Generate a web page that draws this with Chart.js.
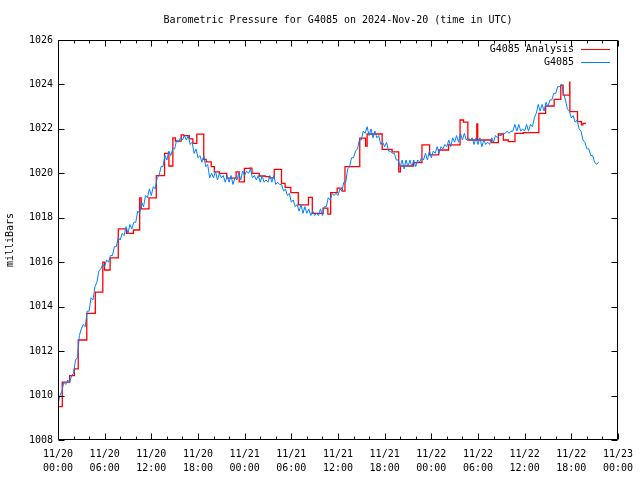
<!DOCTYPE html>
<html>
<head>
<meta charset="utf-8">
<script src="https://cdn.jsdelivr.net/npm/chart.js@4"></script>
<style>
  body { margin: 0; background: #fff; }
  #wrap { width: 640px; height: 480px; }
</style>
</head>
<body>
<div id="wrap"><canvas id="chart" width="640" height="480"></canvas></div>
<script>
// hours since 2024-11-20 00:00 UTC
const xTickLabels = ['11/20', '11/20', '11/20', '11/20', '11/21', '11/21', '11/21', '11/21', '11/22', '11/22', '11/22', '11/22', '11/23'];
const xTickTimes = ['00:00', '06:00', '12:00', '18:00', '00:00', '06:00', '12:00', '18:00', '00:00', '06:00', '12:00', '18:00', '00:00'];

// analysis (hourly-ish steps)
const redHours = [0, 0.55, 1.5, 2.1, 2.6, 3.7, 4.8, 5.76, 5.98, 6.7, 7.75, 8.8, 9.7,
    10.5, 10.7, 11.7, 12.64, 13.7, 14.26, 14.77, 15.1, 15.84, 16.18, 16.9, 17.34, 17.85,
    18.74, 19.05, 19.7, 20.1, 20.75, 21.7, 22.9, 23.3, 23.96, 24.6, 24.94, 25.88, 26.65,
    27.16, 27.8, 28.74, 29.2, 29.94, 30.9, 32.2, 32.7, 34.08, 34.7, 35.06, 35.9, 36.55,
    36.9, 38.8, 39.55, 39.75, 41.68, 42.96, 43.81, 44.03, 45.73, 46.8, 47.78, 48.94,
    50.22, 51.7, 52.14, 52.7, 53.85, 53.97, 55.77, 56.62, 57.26, 57.9, 58.76, 59.83,
    61.83, 62.7, 63.8, 64.65, 64.95, 65.8, 65.82, 66.8, 67.3, 67.5, 67.9];
const redValues = [1009.5, 1010.6, 1010.9, 1011.2, 1012.5, 1013.7, 1014.65, 1016.0, 1015.65, 1016.2, 1017.5, 1017.3, 1017.45,
    1018.9, 1018.4, 1018.9, 1019.9, 1020.9, 1020.33, 1021.6, 1021.45, 1021.73, 1021.7, 1021.55, 1021.35, 1021.76,
    1020.63, 1020.52, 1020.3, 1020.07, 1020.0, 1019.78, 1020.07, 1019.62, 1020.22, 1020.23, 1020.0, 1019.88, 1019.85,
    1019.8, 1020.18, 1019.55, 1019.37, 1019.13, 1018.58, 1018.92, 1018.2, 1018.43, 1018.16, 1019.13, 1019.33, 1019.2,
    1020.3, 1021.58, 1021.23, 1021.77, 1021.08, 1020.97, 1020.07, 1020.33, 1020.48, 1021.28, 1020.83, 1021.05,
    1021.28, 1022.4, 1022.3, 1021.5, 1022.22, 1021.5, 1021.38, 1021.77, 1021.5, 1021.43, 1021.8, 1021.83,
    1022.7, 1023.03, 1023.33, 1023.97, 1023.52, 1024.1, 1022.78, 1022.33, 1022.18, 1022.25, 1022.25];

// station readings, one every 15 minutes from 00:00
const blueValues = [
    1009.6, 1010.0, 1010.2, 1010.6, 1010.5, 1010.7, 1010.6, 1010.9,
    1011.0, 1011.6, 1011.7, 1012.7, 1013.0, 1013.2, 1013.1, 1013.8,
    1013.8, 1014.4, 1014.3, 1014.9, 1015.1, 1015.6, 1015.7, 1015.9,
    1015.8, 1016.1, 1016.0, 1016.3, 1016.3, 1016.7, 1016.7, 1017.1,
    1017.0, 1017.3, 1017.2, 1017.6, 1017.3, 1017.7, 1017.5, 1017.8,
    1017.8, 1018.3, 1018.2, 1018.7, 1018.5, 1019.0, 1018.9, 1019.3,
    1019.0, 1019.4, 1019.3, 1019.8, 1019.9, 1020.3, 1020.3, 1020.8,
    1020.6, 1021.0, 1020.8, 1021.1, 1021.1, 1021.5, 1021.4, 1021.6,
    1021.5, 1021.7, 1021.5, 1021.7, 1021.3, 1021.4, 1020.9, 1021.1,
    1020.7, 1020.8, 1020.5, 1020.8, 1020.3, 1020.4, 1019.8, 1020.0,
    1019.8, 1020.1, 1019.7, 1020.0, 1019.8, 1019.9, 1019.6, 1019.9,
    1019.6, 1019.9, 1019.5, 1019.8, 1019.7, 1020.0, 1019.7, 1020.1,
    1019.9, 1020.1, 1020.0, 1020.2, 1019.8, 1019.9, 1019.7, 1019.9,
    1019.6, 1019.9, 1019.6, 1019.7, 1019.6, 1019.9, 1019.6, 1019.9,
    1019.5, 1019.6, 1019.5, 1019.5, 1019.2, 1019.3, 1019.0, 1019.1,
    1018.7, 1018.8, 1018.5, 1018.6, 1018.3, 1018.6, 1018.2, 1018.5,
    1018.2, 1018.4, 1018.1, 1018.3, 1018.1, 1018.2, 1018.1, 1018.4,
    1018.1, 1018.5, 1018.5, 1018.9, 1018.8, 1019.1, 1019.0, 1019.1,
    1019.0, 1019.3, 1019.2, 1019.6, 1019.6, 1020.2, 1020.3, 1020.7,
    1020.7, 1021.0, 1021.1, 1021.5, 1021.5, 1021.9, 1021.8, 1022.1,
    1021.7, 1022.0, 1021.6, 1021.9, 1021.6, 1021.7, 1021.3, 1021.4,
    1021.2, 1021.4, 1021.0, 1021.0, 1020.9, 1020.9, 1020.6, 1020.6,
    1020.3, 1020.6, 1020.2, 1020.6, 1020.3, 1020.6, 1020.3, 1020.6,
    1020.3, 1020.6, 1020.5, 1020.7, 1020.6, 1020.9, 1020.6, 1021.0,
    1020.7, 1021.0, 1020.9, 1021.2, 1020.9, 1021.2, 1021.1, 1021.3,
    1021.2, 1021.5, 1021.2, 1021.6, 1021.4, 1021.7, 1021.4, 1021.8,
    1021.5, 1021.8, 1021.5, 1021.6, 1021.5, 1021.6, 1021.3, 1021.6,
    1021.3, 1021.6, 1021.2, 1021.5, 1021.3, 1021.4, 1021.3, 1021.6,
    1021.4, 1021.7, 1021.6, 1021.7, 1021.7, 1021.8, 1021.8, 1021.9,
    1021.8, 1021.9, 1021.9, 1022.2, 1021.9, 1022.2, 1021.9, 1022.0,
    1021.9, 1022.2, 1021.9, 1022.2, 1022.1, 1022.5, 1022.7, 1023.1,
    1022.8, 1023.1, 1022.8, 1023.2, 1023.0, 1023.3, 1023.3, 1023.6,
    1023.6, 1023.9, 1023.9, 1024.0, 1023.6, 1023.3, 1022.9, 1022.8,
    1022.5, 1022.6, 1022.3, 1022.4, 1022.0, 1021.9, 1021.5, 1021.4,
    1021.1, 1021.1, 1020.8, 1020.8, 1020.5, 1020.4, 1020.5
];

const FONT = { family: "'DejaVu Sans Mono', 'Liberation Mono', monospace", size: 10, weight: 'normal' };

const redPoints = redHours.map((h, i) => ({ x: h, y: redValues[i] }));
const bluePoints = blueValues.map((v, i) => ({ x: i / 4, y: v }));

// gnuplot style frame with inward ticks + legend inside plot
const framePlugin = {
    id: 'frame',
    afterDraw(chart) {
        const ctx = chart.ctx;
        const a = chart.chartArea;
        const xs = chart.scales.x;
        const ys = chart.scales.y;
        const L = Math.floor(a.left) + 0.5, R = Math.floor(a.right) + 0.5;
        const T = Math.floor(a.top) + 0.5, B = Math.floor(a.bottom) - 0.5;
        ctx.save();
        ctx.strokeStyle = '#000';
        ctx.lineWidth = 1;
        ctx.beginPath();
        ctx.rect(L, T, R - L, B - T);
        for (let h = 0; h <= 72; h += 2) {
            const px = Math.round(xs.getPixelForValue(h)) + 0.5;
            const len = h % 6 === 0 ? 6 : 3;
            ctx.moveTo(px, B); ctx.lineTo(px, B - len);
            ctx.moveTo(px, T); ctx.lineTo(px, T + len);
        }
        for (let v = 1008; v <= 1026; v += 2) {
            const py = Math.round(ys.getPixelForValue(v)) + 0.5;
            ctx.moveTo(L, py); ctx.lineTo(L + 6, py);
            ctx.moveTo(R, py); ctx.lineTo(R - 6, py);
        }
        ctx.stroke();

        // legend
        ctx.font = FONT.size + 'px ' + FONT.family;
        ctx.textAlign = 'right';
        ctx.textBaseline = 'middle';
        ctx.fillStyle = '#000';
        chart.data.datasets.forEach((ds, i) => {
            const y = 49.5 + i * 13;
            ctx.fillText(ds.label, 574, y);
            ctx.strokeStyle = ds.borderColor;
            ctx.beginPath();
            ctx.moveTo(581, y);
            ctx.lineTo(610, y);
            ctx.stroke();
        });
        ctx.restore();
    }
};

new Chart(document.getElementById('chart').getContext('2d'), {
    type: 'line',
    data: {
        datasets: [
            {
                label: 'G4085 Analysis',
                data: redPoints,
                borderColor: '#ff0000',
                borderWidth: 1.3,
                stepped: 'before',
                pointRadius: 0,
                fill: false,
                order: 2
            },
            {
                label: 'G4085',
                data: bluePoints,
                borderColor: '#0080ff',
                borderWidth: 1,
                pointRadius: 0,
                tension: 0,
                fill: false,
                order: 1
            }
        ]
    },
    options: {
        responsive: false,
        animation: false,
        events: [],
        layout: { padding: { left: 0, right: 19, top: 0, bottom: 0 } },
        plugins: {
            legend: { display: false },
            tooltip: { enabled: false },
            title: {
                display: true,
                fullSize: false,
                text: 'Barometric Pressure for G4085 on 2024-Nov-20 (time in UTC)',
                color: '#000',
                font: FONT,
                padding: { top: 14, bottom: 14 }
            }
        },
        scales: {
            x: {
                type: 'linear',
                min: 0,
                max: 72,
                afterFit(scale) { scale.height = 40; },
                afterBuildTicks(scale) {
                    scale.ticks = xTickTimes.map((t, i) => ({ value: i * 6 }));
                },
                grid: { display: false, drawTicks: false },
                border: { display: false },
                ticks: {
                    color: '#000',
                    font: { ...FONT, lineHeight: 1.4 },
                    padding: 7,
                    maxRotation: 0,
                    autoSkip: false,
                    callback: (v) => {
                        const i = Math.round(v / 6);
                        return [xTickLabels[i], xTickTimes[i]];
                    }
                }
            },
            y: {
                min: 1008,
                max: 1026,
                afterFit(scale) { scale.width = 58; },
                grid: { display: false, drawTicks: false },
                border: { display: false },
                ticks: {
                    stepSize: 2,
                    color: '#000',
                    font: FONT,
                    padding: 5,
                    callback: (v) => String(v)
                },
                title: {
                    display: true,
                    text: 'milliBars',
                    color: '#000',
                    font: FONT,
                    padding: { top: 4, bottom: 0 }
                }
            }
        }
    },
    plugins: [framePlugin]
});
</script>
</body>
</html>
